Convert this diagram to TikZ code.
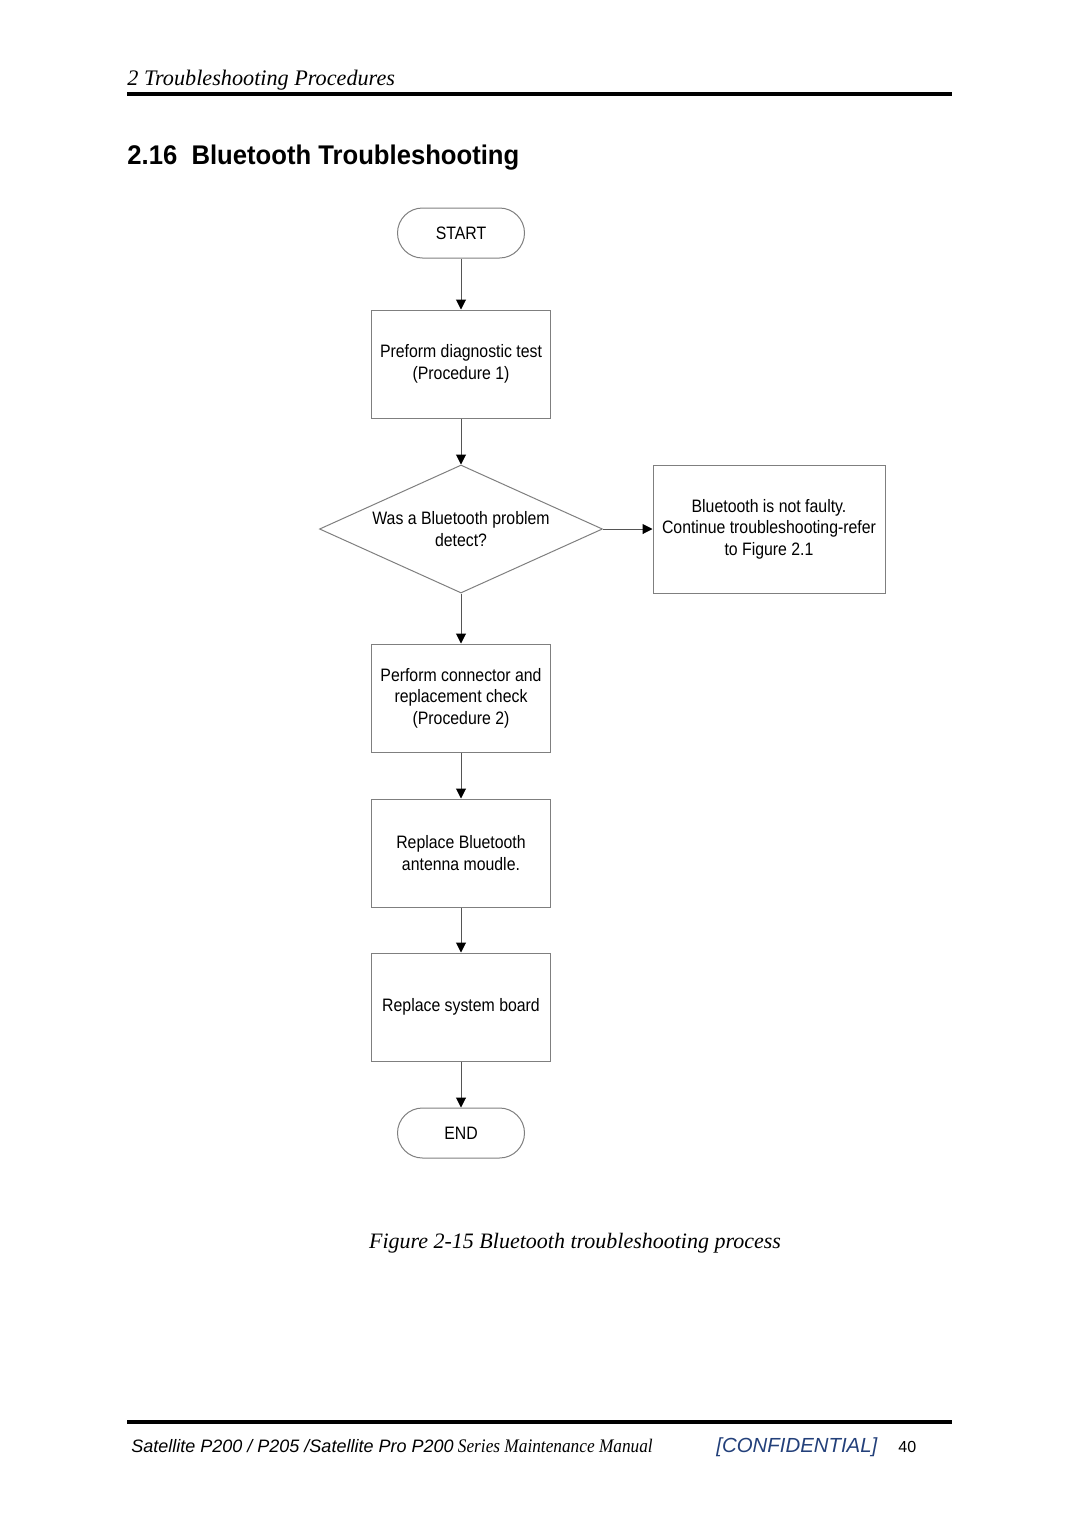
\documentclass[tikz,border=0pt]{standalone}
\usepackage{fontspec}
\setmainfont{Liberation Serif}
\setsansfont{Liberation Sans}
\newfontfamily\flowfont[FakeStretch=0.88]{Liberation Sans}
\newfontfamily\titlefont[FakeStretch=0.95]{Liberation Sans}
\newfontfamily\footsans{Liberation Sans}
\newfontfamily\footserif[FakeStretch=0.9]{Liberation Serif}
\usetikzlibrary{shapes.geometric, arrows.meta}
\definecolor{boxgray}{HTML}{7f7f7f}
\definecolor{linegray}{HTML}{555555}
\definecolor{confblue}{HTML}{23407a}

\begin{document}
\begin{tikzpicture}[x=0.5pt, y=-0.5pt,
  flowtext/.style={align=center, inner sep=0pt,
    font=\flowfont\fontsize{9}{10.8}\selectfont},
  procbox/.style={flowtext, draw=boxgray, line width=0.5pt,
    minimum width=89.5pt, minimum height=54pt},
  termbox/.style={flowtext, draw=boxgray, line width=0.5pt,
    rounded corners=12.5pt, minimum width=63.5pt, minimum height=25pt},
  decbox/.style={flowtext, draw=boxgray, line width=0.5pt, diamond,
    aspect=2.2, minimum width=141.5pt, minimum height=64pt},
  flowarrow/.style={draw=linegray, line width=0.5pt,
    -{Triangle[length=5pt, width=5pt, color=black]}}]
  \useasboundingbox (0,0) rectangle (1080,1527);

  % page header
  \node[anchor=base west, inner sep=0pt, font=\itshape\fontsize{11.1}{13}\selectfont]
    (header) at (127,85) {2 Troubleshooting Procedures};
  \fill (127,92) rectangle (952,96);
  \node[anchor=base west, inner sep=0pt, font=\titlefont\bfseries\fontsize{13.5}{15}\selectfont]
    (title) at (127,164) {2.16\ \ Bluetooth Troubleshooting};

  % flow chart
  \node[termbox] (start) at (461,233) {START};
  \node[procbox] (diag) at (461,364) {Preform diagnostic test\\(Procedure 1)};
  \node[decbox] (detect) at (461,529) {Was a Bluetooth problem\\detect?};
  \node[procbox, minimum width=116pt, minimum height=64pt] (notfaulty) at (769,529)
    {Bluetooth is not faulty.\\Continue troubleshooting-refer\\to Figure 2.1};
  \node[procbox] (conn) at (461,698) {Perform connector and\\replacement check\\(Procedure 2)};
  \node[procbox] (antenna) at (461,853) {Replace Bluetooth\\antenna moudle.};
  \node[procbox] (board) at (461,1007) {Replace system board};
  \node[termbox] (end) at (461,1133) {END};

  \draw[flowarrow] (start) -- (diag);
  \draw[flowarrow] (diag) -- (detect);
  \draw[flowarrow] (detect) -- (notfaulty);
  \draw[flowarrow] (detect) -- (conn);
  \draw[flowarrow] (conn) -- (antenna);
  \draw[flowarrow] (antenna) -- (board);
  \draw[flowarrow] (board) -- (end);

  % caption
  \node[anchor=base, inner sep=0pt, font=\itshape\fontsize{11}{13}\selectfont]
    (caption) at (575,1248) {Figure 2-15 Bluetooth troubleshooting process};

  % page footer
  \fill (127,1420) rectangle (952,1424);
  \node[anchor=base west, inner sep=0pt] (footer) at (131,1452)
    {{\footsans\itshape\fontsize{9}{11}\selectfont Satellite P200 / P205 /Satellite Pro P200}%
     {\footserif\itshape\fontsize{9.6}{11}\selectfont\ Series Maintenance Manual}};
  \node[anchor=base west, inner sep=0pt, text=confblue,
    font=\footsans\itshape\fontsize{10.2}{12}\selectfont] (conf) at (716,1452) {[CONFIDENTIAL]};
  \node[anchor=base west, inner sep=0pt, font=\sffamily\fontsize{8}{10}\selectfont]
    (page) at (898,1452) {40};
\end{tikzpicture}
\end{document}
